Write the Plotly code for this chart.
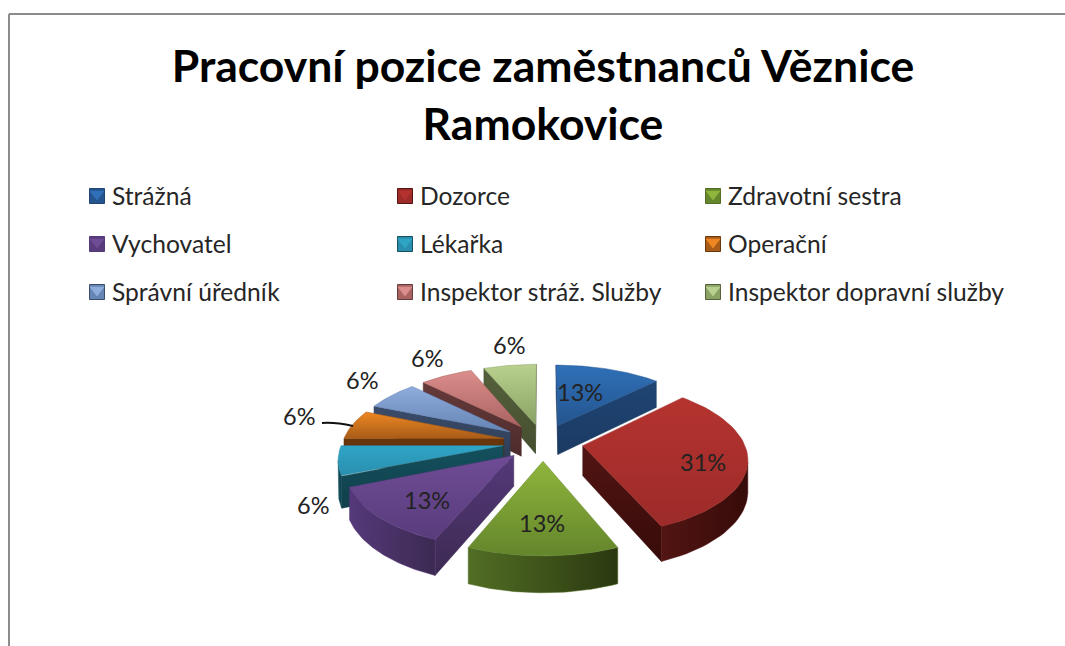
import numpy as np
import plotly.graph_objects as go

title = 'Pracovní pozice zaměstnanců Věznice<br>Ramokovice'
categories = ['Strážná', 'Dozorce', 'Zdravotní sestra', 'Vychovatel', 'Lékařka',
              'Operační', 'Správní úředník', 'Inspektor stráž. Služby', 'Inspektor dopravní služby']
counts = [2, 5, 2, 2, 1, 1, 1, 1, 1]
percent_labels = ['13%', '31%', '13%', '13%', '6%', '6%', '6%', '6%', '6%']

# top light, top dark, side light, side dark
colors = [
    ('#2f70b8', '#24558f', '#1f4573', '#1b3a63'),
    ('#b5332f', '#9c2b29', '#521513', '#360b09'),
    ('#90b53c', '#64862c', '#526e24', '#2a3810'),
    ('#6f4c96', '#593c7c', '#55397a', '#3c2a52'),
    ('#2fa5c6', '#2a8fae', '#14505e', '#103f4a'),
    ('#ee8722', '#a85c18', '#6a360c', '#582c08'),
    ('#8eacdc', '#6585b5', '#3a4c6a', '#2e3d55'),
    ('#dc8e8c', '#a96361', '#653a3a', '#4e2b2b'),
    ('#b9d08e', '#8aa364', '#55603c', '#454f30'),
]

# pie placement on the page, in pixels
cx, cy = 543, 442
radius_x, radius_y = 161, 74
persp = 0.15
explode = 0.25
depth = 30

# label centres and legend grid, in pixels
label_pos = [(580, 392), (703, 462), (542, 523), (427, 500), (313, 505),
             (299, 416), (362, 380), (427, 358), (509, 345)]
legend_x = [97, 405, 713]
legend_y = [196, 244, 292]


def project(px, py, drop=0.0):
    f = 1 + persp * py
    return cx + radius_x * px / f, cy - radius_y * py / f + drop * depth / f


def wedge_outline(start, end, mid):
    ex, ey = explode * np.sin(mid), explode * np.cos(mid)
    t = np.linspace(start, end, 50)
    return ex, ey, ex + np.sin(t), ey + np.cos(t)


def area(xs, ys):
    return 0.5 * np.sum(np.array(xs) * np.roll(ys, -1) - np.roll(xs, -1) * np.array(ys))


def patch(xs, ys, c1, c2, kind):
    return go.Scatter(x=list(xs), y=list(ys), mode='lines', fill='toself',
                      fillgradient=dict(type=kind, colorscale=[[0, c1], [1, c2]]),
                      line=dict(width=0.5, color=c1), hoverinfo='skip', showlegend=False)


fig = go.Figure()

# slices go back to front
total = sum(counts)
angles = np.cumsum([0] + counts) / total * 2 * np.pi
mids = (angles[:-1] + angles[1:]) / 2
order = sorted(range(len(counts)), key=lambda i: -np.cos(mids[i]))

for i in order:
    ex, ey, rx, ry = wedge_outline(angles[i], angles[i + 1], mids[i])
    top_l, top_d, side_l, side_d = colors[i]
    px = np.r_[ex, rx]
    py = np.r_[ey, ry]

    # radial walls, only those facing the viewer
    for a, b in [((ex, ey), (rx[0], ry[0])), ((rx[-1], ry[-1]), (ex, ey))]:
        x1, y1 = project(*a)
        x2, y2 = project(*b)
        x3, y3 = project(*b, 1)
        x4, y4 = project(*a, 1)
        xs, ys = [x1, x2, x3, x4], [y1, y2, y3, y4]
        if area(xs, ys) < 0:
            fig.add_trace(patch(xs + [x1], ys + [y1], side_d, side_l, 'vertical'))

    # rim wall, front half only
    tx, ty = project(rx, ry)
    bx, by = project(rx, ry, 1)
    front = np.gradient(tx) < 0
    if front.any():
        fx = np.r_[tx[front], bx[front][::-1]]
        fy = np.r_[ty[front], by[front][::-1]]
        fig.add_trace(patch(np.r_[fx, fx[0]], np.r_[fy, fy[0]], side_l, side_d, 'horizontal'))

    # top face
    sx, sy = project(px, py)
    fig.add_trace(patch(np.r_[sx, sx[0]], np.r_[sy, sy[0]], top_d, top_l, 'vertical'))

# legend keys
for i, name in enumerate(categories):
    lx, ly = legend_x[i % 3], legend_y[i // 3]
    top_l, top_d, side_l, side_d = colors[i]
    fig.add_trace(go.Scatter(x=[lx], y=[ly], mode='markers', hoverinfo='skip', showlegend=False,
                             marker=dict(symbol='square', size=15, color=top_d,
                                         line=dict(width=1, color=side_l))))
    fig.add_trace(go.Scatter(x=[lx], y=[ly - 2], mode='markers', hoverinfo='skip', showlegend=False,
                             marker=dict(symbol='triangle-down', size=13, color=top_l)))
    fig.add_annotation(x=lx + 13, y=ly - 1, text=name, showarrow=False, xanchor='left', yanchor='middle',
                       font=dict(family='Lato', size=24.6, color='#262626'))

for (lx, ly), text in zip(label_pos, percent_labels):
    fig.add_annotation(x=lx, y=ly, text=text, showarrow=False,
                       font=dict(family='Lato', size=23.5, color='#222222'))

# chart border and the leader line of the Operační label
fig.add_shape(type='line', x0=9, y0=14, x1=1065, y1=14, line=dict(color='#8c8c8c', width=2))
fig.add_shape(type='line', x0=9, y0=14, x1=9, y1=646, line=dict(color='#8c8c8c', width=2))
fig.add_shape(type='path', path='M 322 423 Q 335 422 353 426', line=dict(color='#111111', width=2))

fig.update_layout(
    width=1065, height=646,
    margin=dict(l=0, r=0, t=0, b=0),
    paper_bgcolor='white', plot_bgcolor='white',
    showlegend=False,
    title=dict(text=title, x=543 / 1065, xanchor='center', y=0.873, yanchor='top',
               font=dict(family='Lato', size=44.5, color='#000000', weight='bold')),
    xaxis=dict(range=[0, 1065], visible=False, fixedrange=True),
    yaxis=dict(range=[646, 0], visible=False, fixedrange=True),
)

fig.write_html('out.html', config={'displayModeBar': False},
               post_script="document.body.style.margin='0';")
